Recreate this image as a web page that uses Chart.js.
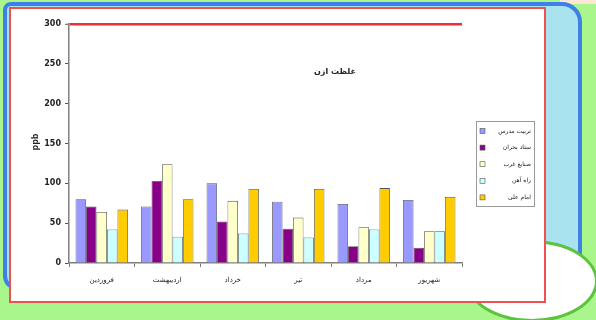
<!DOCTYPE html>
<html>
<head>
<meta charset="utf-8">
<script src="https://cdn.jsdelivr.net/npm/chart.js@4/dist/chart.umd.min.js"></script>
<style>
  html, body { margin: 0; padding: 0; }
  body { width: 596px; height: 320px; overflow: hidden; position: relative; background: #a8f68c; }
  .peach { position: absolute; left: 560px; top: 0; width: 40px; height: 4px; background: #fce6d6; }
  .blue { position: absolute; left: 3px; top: 2px; width: 571px; height: 280px; background: #a9e3ef; border: 4px solid #3f7fe6; border-radius: 8px 20px 20px 14px; }
  .oval { position: absolute; left: 466px; top: 240px; width: 126px; height: 76px; background: #ffffff; border: 3px solid #5cc43c; border-radius: 50%; }
  .sheet { position: absolute; left: 9px; top: 7px; width: 533px; height: 292px; background: #ffffff; border: 2px solid #f05050; }
  canvas { position: absolute; left: 0; top: 0; }
</style>
</head>
<body>
<div class="peach"></div>
<div class="blue"></div>
<div class="oval"></div>
<div class="sheet"><canvas id="c" width="533" height="292"></canvas></div>
<script>
// Months shown on the category axis
const months = ["فروردین", "اردیبهشت", "خرداد", "تیر", "مرداد", "شهریور"];
// Monitoring stations (one bar series each)
const stations = ["تربیت مدرس", "ستاد بحران", "صنایع غرب", "راه آهن", "امام علی"];
// Monthly average concentration (ppb) per station
const station1 = [80, 71, 100, 77, 74, 79];
const station2 = [71, 103, 52, 43, 21, 19];
const station3 = [64, 124, 78, 57, 45, 40];
const station4 = [42, 33, 37, 32, 42, 40];
const station5 = [67, 80, 93, 93, 94, 83];
const yTicks = [0, 50, 100, 150, 200, 250, 300];
const chartTitle = "غلظت ازن";
const unitLabel = "ppb";

const fills = ["#9999ff", "#880088", "#ffffcc", "#ccffff", "#ffcc00"];
const seriesValues = [station1, station2, station3, station4, station5];

const datasets = stations.map((name, i) => ({
  label: name,
  data: seriesValues[i],
  backgroundColor: fills[i],
  borderColor: "#555555",
  borderWidth: 0.8,
  categoryPercentage: 0.8,
  barPercentage: 1.0
}));

const FONT = "'DejaVu Sans', sans-serif";

// Title, rotated unit label and boxed legend drawn on the canvas
const decorations = {
  id: "decorations",
  afterDraw(chart) {
    const ctx = chart.ctx;
    ctx.save();
    // chart title
    ctx.fillStyle = "#222";
    ctx.font = "bold 8px " + FONT;
    ctx.textAlign = "center";
    ctx.textBaseline = "middle";
    ctx.fillText(chartTitle, 324, 63);
    // unit label
    ctx.save();
    ctx.translate(25, 133);
    ctx.rotate(-Math.PI / 2);
    ctx.font = "bold 8px " + FONT;
    ctx.fillText(unitLabel, 0, 0);
    ctx.restore();
    // legend box
    const bx = 465, by = 112, bw = 58, bh = 85;
    ctx.fillStyle = "#ffffff";
    ctx.fillRect(bx, by, bw, bh);
    ctx.strokeStyle = "#9a9a9a";
    ctx.lineWidth = 1;
    ctx.strokeRect(bx + 0.5, by + 0.5, bw, bh);
    chart.data.datasets.forEach((ds, i) => {
      const y = by + 10 + i * 16.6;
      ctx.fillStyle = ds.backgroundColor;
      ctx.fillRect(bx + 4, y - 2.5, 5, 5);
      ctx.strokeStyle = "#555";
      ctx.lineWidth = 0.6;
      ctx.strokeRect(bx + 4, y - 2.5, 5, 5);
      ctx.fillStyle = "#222";
      ctx.font = "6px " + FONT;
      ctx.textAlign = "right";
      ctx.textBaseline = "middle";
      ctx.fillText(ds.label, bx + bw - 3, y);
    });
    ctx.restore();
  }
};

new Chart(document.getElementById("c"), {
  type: "bar",
  data: { labels: months, datasets },
  plugins: [decorations],
  options: {
    responsive: false,
    animation: false,
    layout: { padding: { left: 0, right: 82, top: 15, bottom: 0 } },
    plugins: { legend: { display: false }, tooltip: { enabled: false }, title: { display: false } },
    scales: {
      x: {
        afterFit(scale) { scale.height = 38; },
        grid: {
          offset: true,
          drawOnChartArea: true,
          color: (c) => (c.index === months.length ? "#c8c8c8" : "rgba(0,0,0,0)"),
          tickColor: "#777",
          tickLength: 4,
          lineWidth: 1
        },
        border: { display: true, color: "#808080", width: 1.5 },
        ticks: { font: { family: FONT, size: 7 }, color: "#222", padding: 9, maxRotation: 0 }
      },
      y: {
        min: 0,
        max: 300,
        afterFit(scale) { scale.width = 58; },
        afterBuildTicks(scale) { scale.ticks = yTicks.map(v => ({ value: v })); },
        grid: {
          color: (c) => (c.tick && c.tick.value === 300 ? "#e8303a" : "rgba(0,0,0,0)"),
          lineWidth: (c) => (c.tick && c.tick.value === 300 ? 2.5 : 1),
          tickColor: "#555",
          tickLength: 4,
          tickWidth: 1
        },
        border: { display: true, color: "#808080", width: 1.5 },
        ticks: { font: { family: FONT, size: 8, weight: "bold" }, color: "#222", padding: 4 }
      }
    }
  }
});
</script>
</body>
</html>
